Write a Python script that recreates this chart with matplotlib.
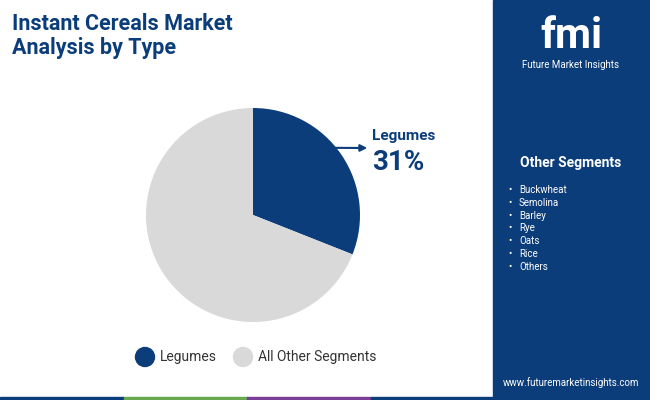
import matplotlib.pyplot as plt
from matplotlib.patches import Rectangle, Ellipse

labels = ["Legumes", "All Other Segments"]
shares = [31, 69]
colors = ["#0b3d7a", "#d9d9d9"]
other_segments = ["Buckwheat", "Semolina", "Barley", "Rye", "Oats", "Rice", "Others"]

plt.rcParams["font.family"] = "Roboto"
fig = plt.figure(figsize=(6.5, 4.0), dpi=100)

# right side panel
fig.add_artist(Rectangle((493/650, 0), 157/650, 1, color="#0b3d7a", transform=fig.transFigure, zorder=0))
# bottom strip
strip = ["#0b3d7a", "#6aa84f", "#7b3f98", "#0b3d7a"]
for i, c in enumerate(strip):
    fig.add_artist(Rectangle((i * 0.19, 0), 0.19, 0.008, color=c, transform=fig.transFigure))

fig.text(12/650, 1 - 36/400, "Instant Cereals Market\nAnalysis by Type", fontsize=15.5,
         fontweight="bold", color="#0b3d7a", va="center", linespacing=1.15)

ax = fig.add_axes([(253-107)/650, 1 - (215+107)/400, 214/650, 214/400])
ax.pie(shares, colors=colors, startangle=90, counterclock=False,
       wedgeprops=dict(linewidth=0))
ax.set_xlim(-1, 1)
ax.set_ylim(-1, 1)
ax.set_aspect("equal")
ax.annotate("", xy=(370/650, 1 - 148/400), xycoords="figure fraction",
            xytext=(0.59, 0.815), textcoords="axes fraction",
            arrowprops=dict(arrowstyle="-|>", color="#0b3d7a", lw=1.5))
fig.text(372/650, 1 - 136/400, "Legumes", fontsize=11, fontweight="bold", color="#0b3d7a", va="center")
fig.text(372/650, 1 - 162/400, f"{shares[0]}%", fontsize=20, fontweight="bold", color="#0b3d7a", va="center")

# legend
for x, lab, c in [(145, labels[0], colors[0]), (243, labels[1], colors[1])]:
    fig.add_artist(Ellipse((x/650, 1 - 357/400), 19/650, 19/400, color=c, transform=fig.transFigure))
    fig.text((x + 15)/650, 1 - 357/400, lab, fontsize=10, color="#333333", va="center")

# logo
fig.text(571/650, 1 - 36/400, "fmi", fontsize=30, fontweight="bold", color="white", ha="center", va="center")
fig.text(571/650, 1 - 65/400, "Future Market Insights", fontsize=7, color="white", ha="center", va="center")

fig.text(571/650, 1 - 163/400, "Other Segments", fontsize=10, fontweight="bold", color="white", ha="center", va="center")
for i, s in enumerate(other_segments):
    y = 1 - (190 + i * 12.8)/400
    fig.text(508/650, y, "•", fontsize=7, color="white", va="center")
    fig.text(519/650, y, s, fontsize=7, color="white", va="center")

fig.text(571/650, 1 - 383/400, "www.futuremarketinsights.com", fontsize=7, color="white", ha="center", va="center")

fig.savefig("out.png", dpi=100)
